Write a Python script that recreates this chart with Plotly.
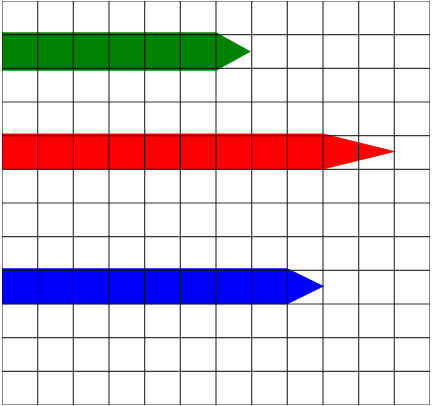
import plotly.graph_objects as go

# Data
names = ["green", "red", "blue"]
colors = ["#008000", "#ff0000", "#0000ff"]
row_center = [10.5, 7.53, 3.53]      # y (grid units, 0 at bottom)
body_len = [6.0, 9.0, 8.0]           # x units
tip_len = [0.98, 2.05, 1.03]
thickness = [1.15, 1.07, 1.07]
grid_ticks = list(range(0, 13))

fig = go.Figure()
for n, c, yc, bl, tl, th in zip(names, colors, row_center, body_len, tip_len, thickness):
    h = th / 2
    xs = [0, bl, bl + tl, bl, 0, 0]
    ys = [yc + h, yc + h, yc, yc - h, yc - h, yc + h]
    fig.add_trace(go.Scatter(x=xs, y=ys, fill="toself", fillcolor=c, mode="lines",
                             line=dict(width=0, color=c), name=n, hoverinfo="skip"))

shapes = []
for t in grid_ticks:
    shapes.append(dict(type="line", xref="x", yref="y", x0=t, x1=t, y0=0, y1=12,
                       line=dict(color="rgba(20,20,20,0.85)", width=1.2), layer="above"))
    shapes.append(dict(type="line", xref="x", yref="y", x0=0, x1=12, y0=t, y1=t,
                       line=dict(color="rgba(20,20,20,0.85)", width=1.2), layer="above"))

fig.update_layout(
    width=432, height=406,
    margin=dict(l=2, r=2, t=1, b=1),
    paper_bgcolor="white", plot_bgcolor="white",
    showlegend=False,
    shapes=shapes,
    xaxis=dict(range=[0, 12], showgrid=False, zeroline=False, showticklabels=False,
               ticks="", fixedrange=True),
    yaxis=dict(range=[0, 12], showgrid=False, zeroline=False, showticklabels=False,
               ticks="", fixedrange=True),
)
fig.write_html("out.html", config={"displayModeBar": False},
               post_script="document.body.style.margin='0';document.body.style.overflow='hidden';")
